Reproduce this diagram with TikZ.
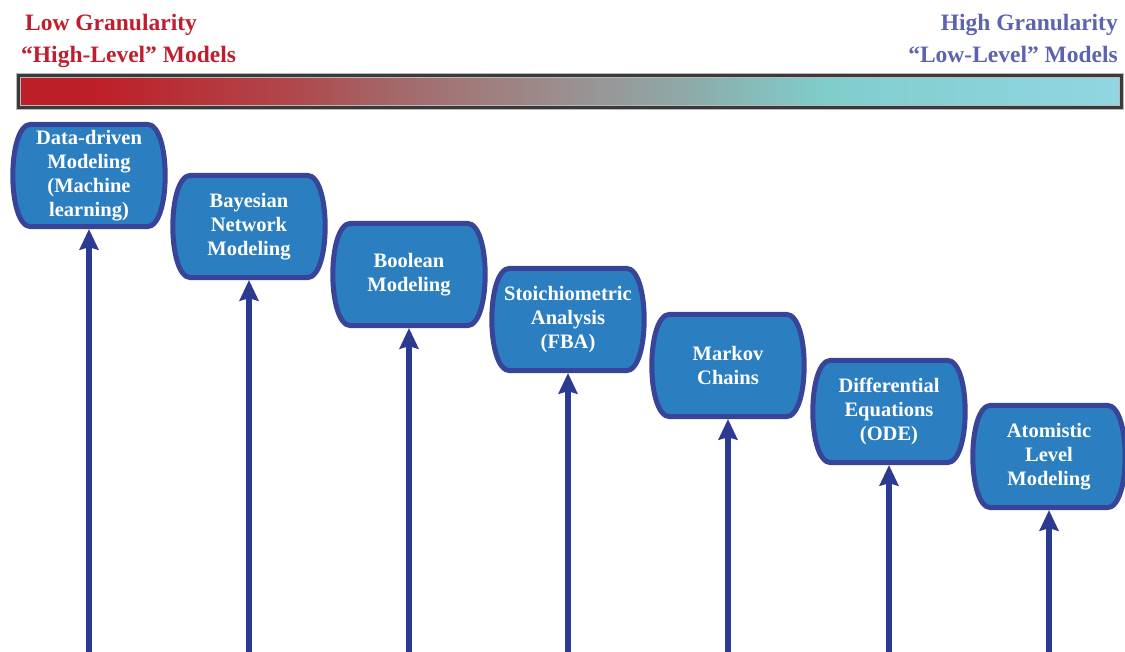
\documentclass[tikz,border=0pt]{standalone}
\usepackage{fontspec}
\setmainfont{Liberation Serif}
\usetikzlibrary{arrows.meta,backgrounds}
\definecolor{lowred}{RGB}{190,30,45}
\definecolor{highblue}{RGB}{92,100,174}
\definecolor{boxfill}{RGB}{43,127,192}
\definecolor{boxedge}{RGB}{56,68,152}
\definecolor{arrowblue}{RGB}{45,58,145}
\definecolor{barline}{RGB}{58,58,58}
\definecolor{gA}{RGB}{190,30,40}
\definecolor{gB}{RGB}{176,72,76}
\definecolor{gC}{RGB}{164,104,106}
\definecolor{gD}{RGB}{160,128,128}
\definecolor{gE}{RGB}{152,150,150}
\definecolor{gF}{RGB}{140,172,170}
\definecolor{gG}{RGB}{128,205,205}
\definecolor{gH}{RGB}{145,214,225}
\pgfdeclarehorizontalshading{granshade}{100bp}{%
  color(0bp)=(gA); color(25bp)=(gA); color(28.3bp)=(gA);
  color(37.6bp)=(gB); color(42.1bp)=(gC); color(46.8bp)=(gD);
  color(51.3bp)=(gE); color(55.7bp)=(gF); color(61.6bp)=(gG);
  color(75bp)=(gH); color(100bp)=(gH)}
\tikzset{
  modeltext/.style={shape=rectangle, draw=none, inner sep=0pt,
    minimum width=152pt, minimum height=102pt, align=center,
    text=white, font=\bfseries\fontsize{20.5}{24}\selectfont},
  boxline/.style={draw=boxedge, fill=boxfill, line width=5pt, line join=round},
  uparrow/.style={draw=arrowblue, line width=6pt,
    -{Stealth[length=21pt,width=20pt,inset=3pt,line width=0pt]},
    shorten >=2.5pt},
  lowlabel/.style={text=lowred, font=\bfseries\fontsize{23.5}{28}\selectfont, inner sep=0pt},
  highlabel/.style={text=highblue, font=\bfseries\fontsize{23.5}{28}\selectfont, inner sep=0pt}
}
\newcommand{\bulgeoutline}[1]{%
  \path[boxline] ([xshift=18pt]#1.north west) -- ([xshift=-18pt]#1.north east)
    .. controls ([xshift=6pt]#1.north east) and ([xshift=6pt]#1.south east) .. ([xshift=-18pt]#1.south east)
    -- ([xshift=18pt]#1.south west)
    .. controls ([xshift=-6pt]#1.south west) and ([xshift=-6pt]#1.north west) .. cycle;}
\begin{document}
\begin{tikzpicture}[x=1pt,y=-1pt]
\useasboundingbox (0,0) rectangle (1125,651);

% top labels
\node[lowlabel, anchor=base west] (lowA) at (25,30) {Low Granularity};
\node[lowlabel, anchor=base west] (lowB) at (21,62) {“High-Level” Models};
\node[highlabel, anchor=base east] (highA) at (1118,30) {High Granularity};
\node[highlabel, anchor=base east] (highB) at (1118,62) {“Low-Level” Models};

% gradient bar
\shade[shading=granshade] (18,75) rectangle (1121,107);
\draw[gray!55, line width=5pt] (18,75) rectangle (1121,107);
\draw[barline, line width=3pt] (18,75) rectangle (1121,107);

% model boxes
\node[modeltext] (b1) at (89,175.5) {Data-driven\\Modeling\\(Machine\\learning)};
\node[modeltext] (b2) at (249,226.5) {Bayesian\\Network\\Modeling};
\node[modeltext] (b3) at (409,274.5) {Boolean\\Modeling};
\node[modeltext] (b4) at (568,319.5) {Stoichiometric\\Analysis\\(FBA)};
\node[modeltext] (b5) at (728,365.5) {Markov\\Chains};
\node[modeltext] (b6) at (889,411.5) {Differential\\Equations\\(ODE)};
\node[modeltext] (b7) at (1049,456.5) {Atomistic\\Level\\Modeling};

\begin{scope}[on background layer]
  \foreach \b in {b1,b2,b3,b4,b5,b6,b7} {\bulgeoutline{\b}}
\end{scope}

% arrows
\foreach \b [count=\i] in {b1,b2,b3,b4,b5,b6,b7} {
  \coordinate (a\i) at (\b.south |- 0,652);
  \draw[uparrow] (a\i) -- (\b.south);
}
\end{tikzpicture}
\end{document}
